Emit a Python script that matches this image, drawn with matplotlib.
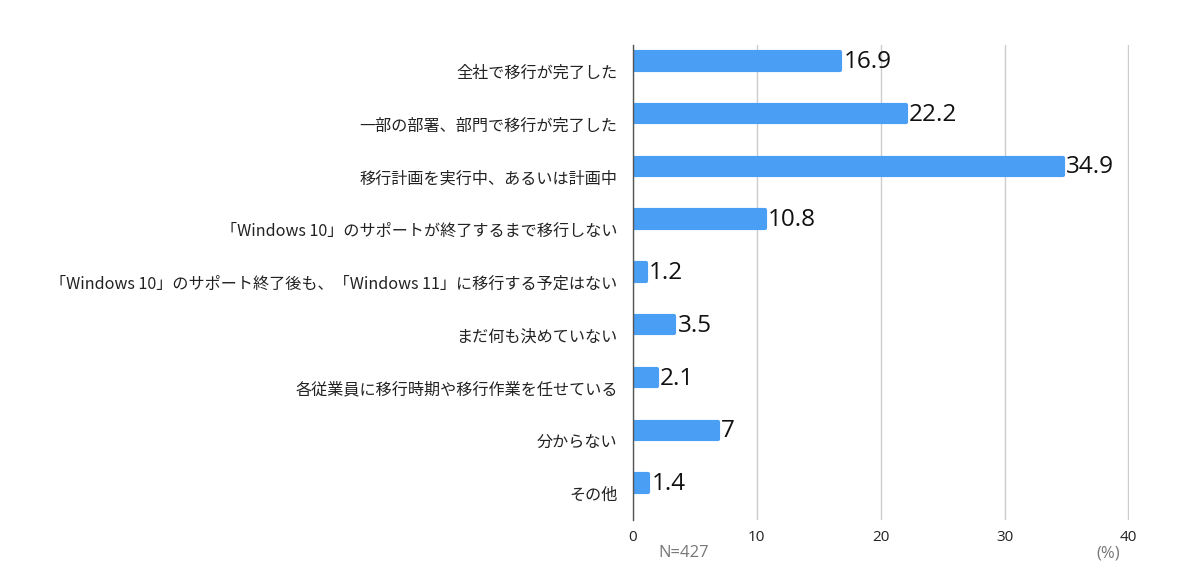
import matplotlib
matplotlib.use("Agg")
import matplotlib.pyplot as plt

plt.rcParams['font.family'] = ['Noto Sans CJK JP', 'DejaVu Sans']

categories = [
    "全社で移行が完了した",
    "一部の部署、部門で移行が完了した",
    "移行計画を実行中、あるいは計画中",
    "「Windows 10」のサポートが終了するまで移行しない",
    "「Windows 10」のサポート終了後も、「Windows 11」に移行する予定はない",
    "まだ何も決めていない",
    "各従業員に移行時期や移行作業を任せている",
    "分からない",
    "その他",
]
values = [16.9, 22.2, 34.9, 10.8, 1.2, 3.5, 2.1, 7, 1.4]
value_labels = ["16.9", "22.2", "34.9", "10.8", "1.2", "3.5", "2.1", "7", "1.4"]
xticks = [0, 10, 20, 30, 40]

BAR_COLOR = "#4a9ff5"

fig = plt.figure(figsize=(12, 5.83), dpi=100)
ax = fig.add_axes([0.5275, 0.108, 0.4133, 0.8148])

pos = list(range(len(categories)))
bar_pos = [p - 0.2 for p in pos]
ax.barh(bar_pos, [v - 0.15 for v in values], height=0.33, color=BAR_COLOR,
        edgecolor=BAR_COLOR, linewidth=3, joinstyle='round', zorder=3)

for y, v, lab in zip(bar_pos, values, value_labels):
    ax.text(v + 0.1, y + 0.02, lab, va='center', ha='left', fontsize=17.5,
            family=['Open Sans', 'DejaVu Sans'], color='#111111', zorder=4)

ax.set_xlim(0, 40.05)
ax.set_ylim(len(categories) - 0.5, -0.5)
ax.set_yticks(pos)
ax.set_yticklabels(categories, fontsize=11.6, color='#222222')
ax.set_xticks(xticks)
ax.set_xticklabels([str(t) for t in xticks], fontsize=11, color='#222222',
                   family=['Open Sans', 'DejaVu Sans'])
ax.tick_params(axis='both', length=0)
ax.tick_params(axis='y', pad=11)
ax.tick_params(axis='x', pad=7)

ax.xaxis.grid(True, color='#cccccc', linewidth=1, zorder=0)
ax.set_axisbelow(True)
for s in ['top', 'right', 'bottom']:
    ax.spines[s].set_visible(False)
ax.spines['left'].set_color('#555555')
ax.spines['left'].set_linewidth(1)
ax.spines['left'].set_zorder(5)

fig.text(0.549, 0.051, "N=427", fontsize=12, color='#777777', ha='left', va='center',
         family=['Open Sans', 'DejaVu Sans'])
fig.text(0.914, 0.051, "(%)", fontsize=12, color='#777777', ha='left', va='center',
         family=['Open Sans', 'DejaVu Sans'])

fig.savefig("out.png", dpi=100, facecolor='white')
